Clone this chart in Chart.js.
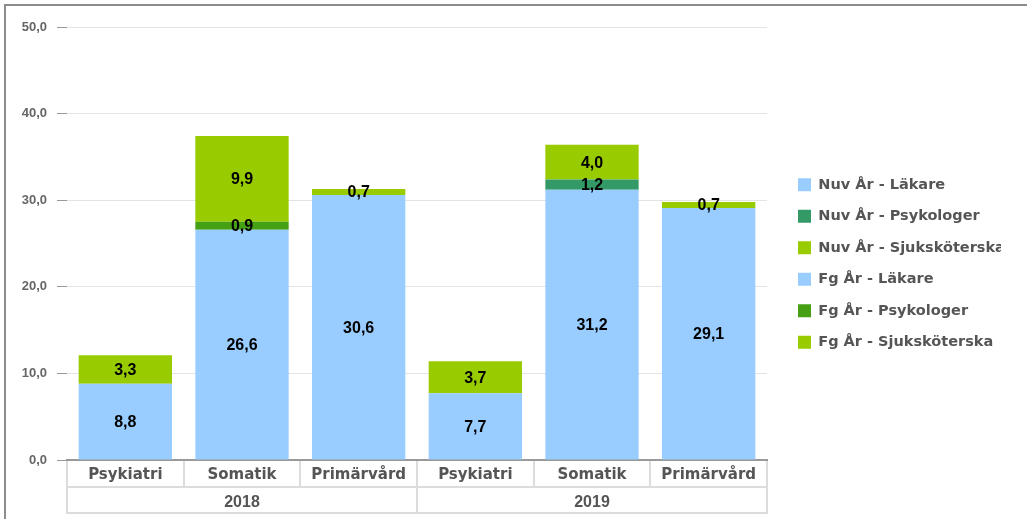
<!DOCTYPE html>
<html>
<head>
<meta charset="utf-8">
<script src="https://cdn.jsdelivr.net/npm/chart.js@4.4.0/dist/chart.umd.min.js"></script>
<style>
  html, body { margin: 0; padding: 0; background: #fff; }
  #wrap { position: relative; width: 1027px; height: 519px; overflow: hidden; }
  #frame { position: absolute; left: 4px; top: 4px; width: 1030px; height: 530px;
           border-left: 2px solid #8c8c8c; border-top: 2px solid #8c8c8c; pointer-events: none; }
  canvas { position: absolute; left: 0; top: 0; }
</style>
</head>
<body>
<div id="wrap">
  <canvas id="chart" width="1027" height="519"></canvas>
  <div id="frame"></div>
</div>
<script>
const categories = ["Psykiatri", "Somatik", "Primärvård", "Psykiatri", "Somatik", "Primärvård"];
const years = ["2018", "2019"];

// 2019 = "Nuv År", 2018 = "Fg År"
const nuvLakare = [null, null, null, 7.7, 31.2, 29.1];
const nuvPsykologer = [null, null, null, null, 1.2, null];
const nuvSjukskoterska = [null, null, null, 3.7, 4.0, 0.7];
const fgLakare = [8.8, 26.6, 30.6, null, null, null];
const fgPsykologer = [null, 0.9, null, null, null, null];
const fgSjukskoterska = [3.3, 9.9, 0.7, null, null, null];

const yMin = 0;
const yMax = 50;
const yStep = 10;

const SANS = '"Liberation Sans", Arial, sans-serif';
const WIDE = '"DejaVu Sans", Verdana, sans-serif';
const fmt = (v) => v.toFixed(1).replace(".", ",");

// draws the value inside every stacked segment
const valueLabels = {
  id: "valueLabels",
  afterDatasetsDraw(chart) {
    const ctx = chart.ctx;
    ctx.save();
    ctx.font = "bold 16px " + SANS;
    ctx.fillStyle = "#000";
    ctx.textAlign = "center";
    ctx.textBaseline = "middle";
    chart.data.datasets.forEach((ds, i) => {
      const meta = chart.getDatasetMeta(i);
      meta.data.forEach((bar, j) => {
        const v = ds.data[j];
        if (v == null) return;
        const p = bar.getProps(["x", "y", "base"], true);
        ctx.fillText(fmt(v), p.x, (p.y + p.base) / 2 + 1);
      });
    });
    ctx.restore();
  },
};

// bottom edge of the two-row axis table
const tableBottom = {
  id: "tableBottom",
  afterDraw(chart) {
    const x2 = chart.scales.x2;
    const ctx = chart.ctx;
    ctx.save();
    ctx.strokeStyle = "#dcdcdc";
    ctx.lineWidth = 2;
    ctx.beginPath();
    ctx.moveTo(x2.left - 1, x2.bottom - 1);
    ctx.lineTo(x2.right + 1, x2.bottom - 1);
    ctx.stroke();
    ctx.restore();
  },
};

const ctx = document.getElementById("chart");

new Chart(ctx, {
  type: "bar",
  data: {
    labels: categories,
    datasets: [
      { label: "Nuv År - Läkare", data: nuvLakare, backgroundColor: "#99ccff" },
      { label: "Nuv År - Psykologer", data: nuvPsykologer, backgroundColor: "#339966" },
      { label: "Nuv År - Sjuksköterska", data: nuvSjukskoterska, backgroundColor: "#99cc00" },
      { label: "Fg År - Läkare", data: fgLakare, backgroundColor: "#99ccff" },
      { label: "Fg År - Psykologer", data: fgPsykologer, backgroundColor: "#46a014" },
      { label: "Fg År - Sjuksköterska", data: fgSjukskoterska, backgroundColor: "#99cc00" },
    ],
  },
  options: {
    responsive: false,
    animation: false,
    barPercentage: 0.8,
    categoryPercentage: 1,
    layout: { padding: { top: 13, right: 26, bottom: 5, left: 0 } },
    plugins: {
      legend: {
        position: "right",
        maxWidth: 220,
        labels: {
          boxWidth: 13,
          boxHeight: 13,
          padding: 17,
          color: "#555",
          font: { family: WIDE, size: 14.5, weight: "bold" },
        },
      },
      tooltip: { enabled: false },
    },
    scales: {
      x: {
        stacked: true,
        offset: true,
        grid: { offset: true, drawOnChartArea: false, color: "#dcdcdc", tickLength: 27, lineWidth: 2 },
        border: { color: "#999", width: 2 },
        ticks: { color: "#555", padding: -21, font: { family: WIDE, size: 15, weight: "bold" } },
        afterFit: (s) => { s.height = 27; },
      },
      x2: {
        type: "category",
        position: "bottom",
        labels: years,
        offset: true,
        grid: { offset: true, drawOnChartArea: false, color: "#dcdcdc", tickLength: 27, lineWidth: 2 },
        border: { color: "#dcdcdc", width: 2 },
        ticks: { color: "#555", padding: -21, font: { family: SANS, size: 16, weight: "bold" } },
        afterFit: (s) => { s.height = 27; },
      },
      y: {
        stacked: true,
        min: yMin,
        max: yMax,
        ticks: {
          stepSize: yStep,
          padding: 10,
          color: "#666",
          font: { family: SANS, size: 13, weight: "bold" },
          callback: (v) => fmt(v),
        },
        grid: { color: "#e4e4e4", tickColor: "#999", tickLength: 10 },
        border: { display: false },
        afterFit: (s) => { s.width = 67; },
      },
      topGap: {
        type: "linear",
        position: "top",
        grid: { display: false },
        border: { display: false },
        ticks: { display: false },
        afterFit: (s) => { s.height = 14; },
      },
      gap: {
        type: "linear",
        position: "right",
        grid: { display: false },
        border: { display: false },
        ticks: { display: false },
        afterFit: (s) => { s.width = 14; },
      },
    },
  },
  plugins: [valueLabels, tableBottom],
});
</script>
</body>
</html>
